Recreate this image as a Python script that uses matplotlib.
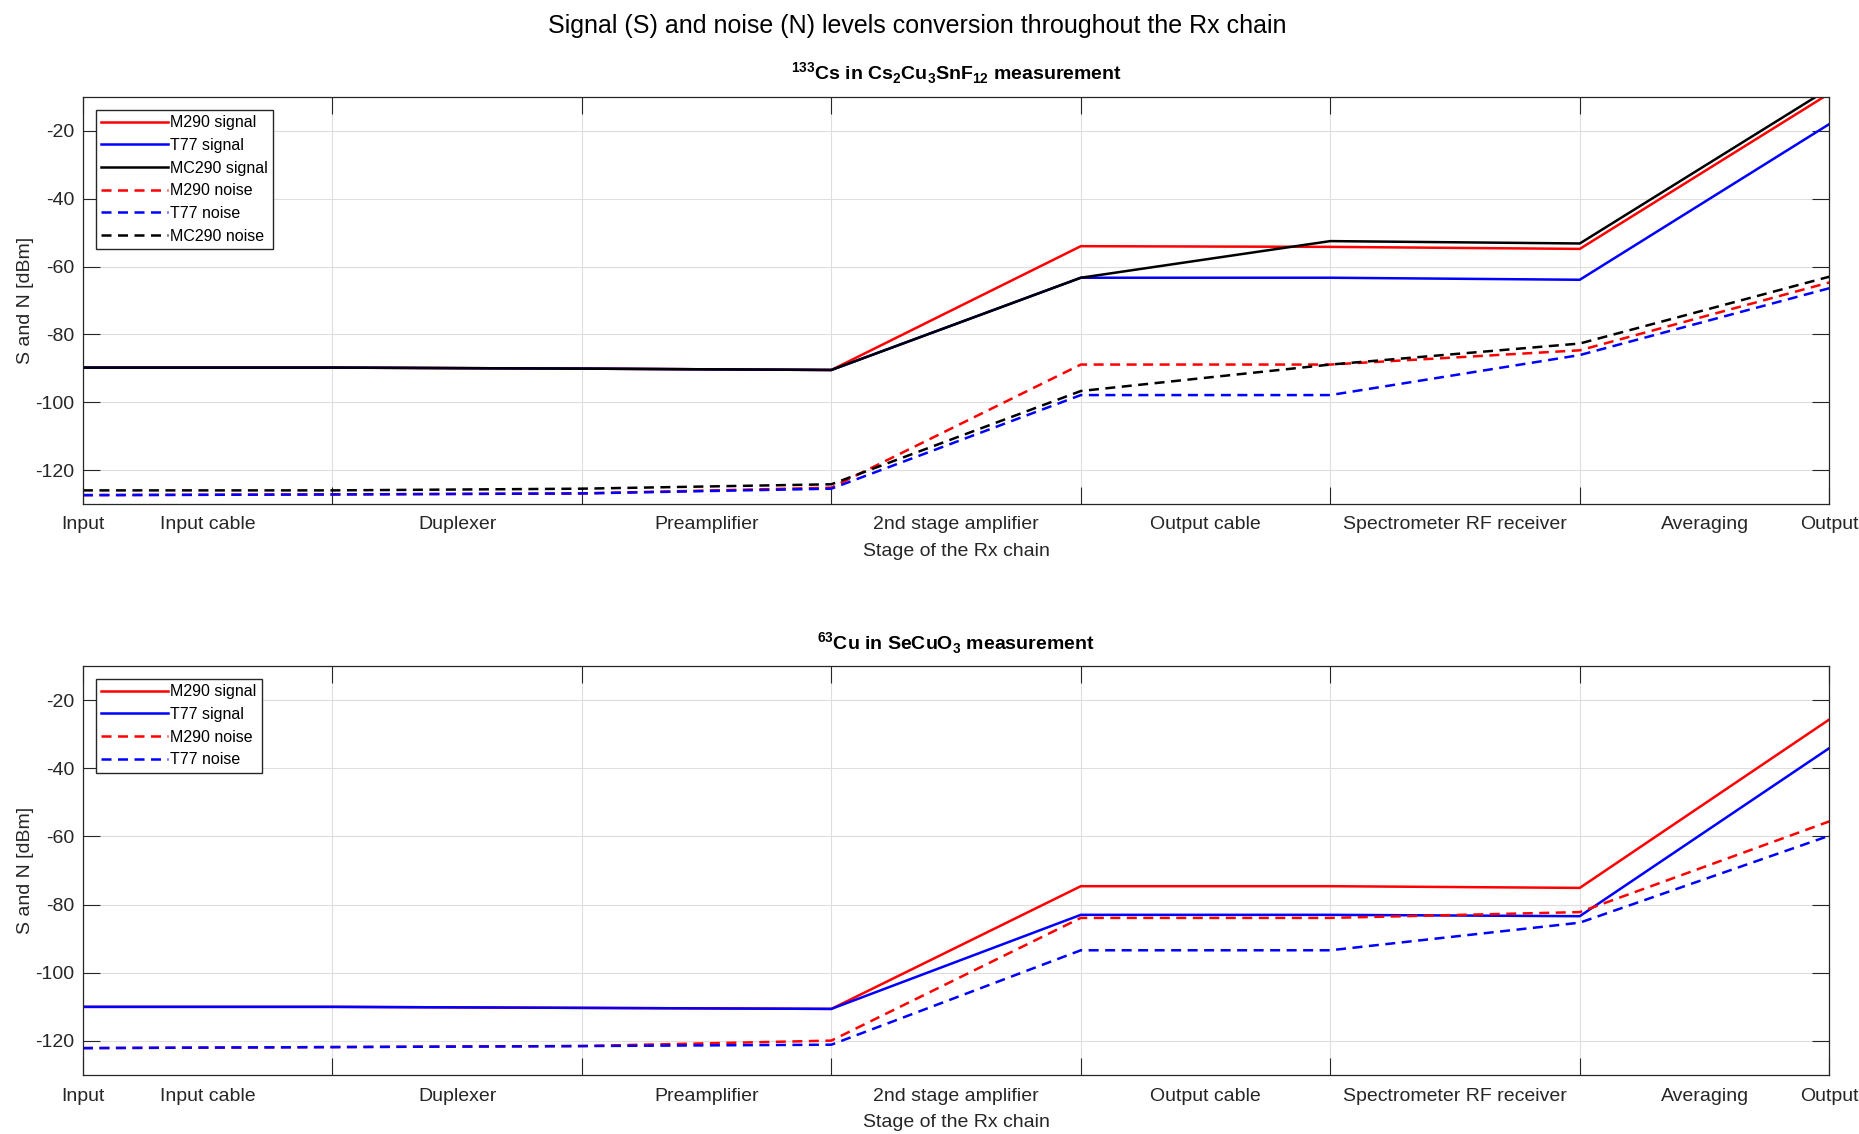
import numpy as np
import matplotlib
matplotlib.use('Agg')
import matplotlib.pyplot as plt
from matplotlib.ticker import FixedLocator, FixedFormatter

plt.rcParams['font.family'] = ['Liberation Sans', 'DejaVu Sans']
plt.rcParams['mathtext.fontset'] = 'custom'
plt.rcParams['mathtext.rm'] = 'Liberation Sans'
plt.rcParams['mathtext.bf'] = 'Liberation Sans:bold'
plt.rcParams['axes.unicode_minus'] = False

# --- Data ---
stage_names = ['Input cable', 'Duplexer', 'Preamplifier', '2nd stage amplifier',
               'Output cable', 'Spectrometer RF receiver', 'Averaging']
edge_labels = ['Input', '', '', '', '', '', '', 'Output']

# 133Cs in Cs2Cu3SnF12
cs_m290_signal = [-89.8, -89.8, -90.1, -90.5, -54.0, -54.2, -54.8, -9.0]
cs_t77_signal = [-89.8, -89.8, -90.1, -90.5, -63.3, -63.3, -63.9, -18.0]
cs_mc290_signal = [-89.8, -89.8, -90.1, -90.5, -63.3, -52.5, -53.2, -7.5]
cs_m290_noise = [-127.4, -127.2, -126.9, -125.2, -88.9, -88.9, -84.7, -64.7]
cs_t77_noise = [-127.4, -127.2, -126.9, -125.5, -97.9, -97.9, -86.1, -66.4]
cs_mc290_noise = [-126.0, -126.0, -125.5, -124.2, -96.7, -88.9, -82.7, -63.0]

# 63Cu in SeCuO3
cu_m290_signal = [-110.0, -110.0, -110.3, -110.6, -74.6, -74.6, -75.1, -25.7]
cu_t77_signal = [-110.0, -110.0, -110.3, -110.6, -83.0, -83.0, -83.4, -34.1]
cu_m290_noise = [-122.1, -121.8, -121.5, -119.9, -83.9, -83.9, -82.2, -55.6]
cu_t77_noise = [-122.1, -121.8, -121.5, -121.1, -93.4, -93.4, -85.3, -59.8]

x = np.arange(len(cs_m290_signal))
GREY = (0.15, 0.15, 0.15)
LW = 1.8
DASH = (4, 2.6)


def style_axes(ax, title):
    ax.set_xlim(0, 7)
    ax.set_ylim(-130, -10)
    ax.set_yticks([-120, -100, -80, -60, -40, -20])
    # gridlines / ticks at the stage boundaries, names in between
    ax.xaxis.set_major_locator(FixedLocator(x))
    ax.xaxis.set_major_formatter(FixedFormatter(edge_labels))
    ax.xaxis.set_minor_locator(FixedLocator(x[:-1] + 0.5))
    ax.xaxis.set_minor_formatter(FixedFormatter(stage_names))
    ax.tick_params(which='major', direction='in', length=12, width=0.8, color=GREY,
                   top=True, right=True, labelsize=14, labelcolor=GREY, pad=9)
    ax.tick_params(which='minor', length=0, labelsize=14, labelcolor=GREY, pad=9)
    ax.tick_params(axis='y', pad=6)
    ax.grid(True, which='major', color=(0.87, 0.87, 0.87), linewidth=0.8)
    for s in ax.spines.values():
        s.set_color(GREY)
        s.set_linewidth(0.9)
    ax.set_xlabel('Stage of the Rx chain', fontsize=14, color=GREY, labelpad=7)
    ax.set_ylabel('S and N [dBm]', fontsize=14, color=GREY, labelpad=1)
    ax.set_title(title, fontsize=14, fontweight='bold', pad=12)
    ax.legend(loc='upper left', fontsize=11.5, frameon=True, fancybox=False,
              edgecolor=GREY, framealpha=1, handlelength=4.2, handletextpad=0.1,
              labelspacing=0.48, borderpad=0.35, borderaxespad=0.8)


fig = plt.figure(figsize=(18.59, 11.34), dpi=100)
ax1 = fig.add_axes([0.0446, 0.5556, 0.9394, 0.3589])
ax2 = fig.add_axes([0.0446, 0.0520, 0.9394, 0.3607])

ax1.plot(x, cs_m290_signal, color='r', lw=LW, label='M290 signal')
ax1.plot(x, cs_t77_signal, color='b', lw=LW, label='T77 signal')
ax1.plot(x, cs_mc290_signal, color='k', lw=LW, label='MC290 signal')
ax1.plot(x, cs_m290_noise, color='r', lw=LW, ls=(0, DASH), label='M290 noise')
ax1.plot(x, cs_t77_noise, color='b', lw=LW, ls=(0, DASH), label='T77 noise')
ax1.plot(x, cs_mc290_noise, color='k', lw=LW, ls=(0, DASH), label='MC290 noise')
style_axes(ax1, r'$^{\mathbf{133}}$Cs in Cs$_{\mathbf{2}}$Cu$_{\mathbf{3}}$SnF$_{\mathbf{12}}$ measurement')

ax2.plot(x, cu_m290_signal, color='r', lw=LW, label='M290 signal')
ax2.plot(x, cu_t77_signal, color='b', lw=LW, label='T77 signal')
ax2.plot(x, cu_m290_noise, color='r', lw=LW, ls=(0, DASH), label='M290 noise')
ax2.plot(x, cu_t77_noise, color='b', lw=LW, ls=(0, DASH), label='T77 noise')
style_axes(ax2, r'$^{\mathbf{63}}$Cu in SeCuO$_{\mathbf{3}}$ measurement')

fig.suptitle('Signal (S) and noise (N) levels conversion throughout the Rx chain',
             fontsize=18.0, x=0.4935, y=0.9875, va='top')

fig.savefig('out.png', dpi=100)
